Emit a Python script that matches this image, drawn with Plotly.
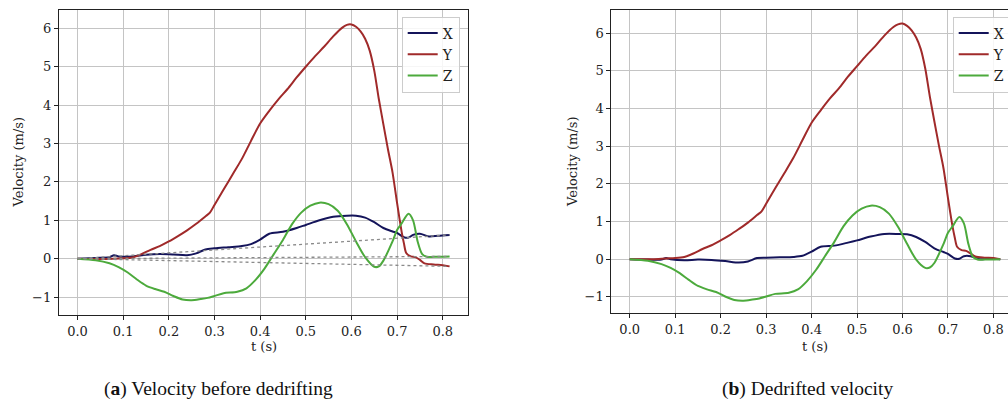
import plotly.graph_objects as go

# ---------------- data ----------------
# (a) Velocity before dedrifting
t_x_a = [0, 0.04, 0.07, 0.08, 0.09, 0.12, 0.15, 0.18, 0.21, 0.24, 0.26, 0.28, 0.30, 0.33, 0.36,
         0.38, 0.40, 0.42, 0.45, 0.48, 0.50, 0.53, 0.56, 0.59, 0.61, 0.63, 0.65, 0.67, 0.69, 0.70,
         0.715, 0.725, 0.735, 0.75, 0.77, 0.79, 0.815]
vx_a = [0, 0.02, 0.04, 0.09, 0.06, 0.06, 0.10, 0.12, 0.11, 0.09, 0.14, 0.24, 0.27, 0.30, 0.33,
        0.38, 0.50, 0.65, 0.70, 0.80, 0.88, 1.00, 1.09, 1.12, 1.12, 1.07, 0.95, 0.80, 0.71, 0.67,
        0.56, 0.55, 0.62, 0.65, 0.58, 0.60, 0.62]

t_y_a = [0, 0.05, 0.08, 0.10, 0.12, 0.14, 0.16, 0.18, 0.20, 0.22, 0.24, 0.26, 0.28, 0.29, 0.30,
         0.32, 0.34, 0.36, 0.38, 0.40, 0.42, 0.44, 0.46, 0.48, 0.50, 0.52, 0.54, 0.56, 0.58, 0.59,
         0.60, 0.61, 0.62, 0.63, 0.64, 0.65, 0.66, 0.67, 0.68, 0.69, 0.70, 0.71, 0.715, 0.72, 0.73,
         0.74, 0.75, 0.76, 0.78, 0.80, 0.815]
vy_a = [0, -0.01, 0.0, 0.01, 0.03, 0.12, 0.23, 0.33, 0.45, 0.59, 0.74, 0.91, 1.10, 1.20, 1.40,
        1.80, 2.20, 2.60, 3.07, 3.52, 3.85, 4.15, 4.42, 4.72, 5.00, 5.27, 5.52, 5.79, 6.02, 6.09,
        6.10, 6.04, 5.92, 5.73, 5.42, 4.90, 4.16, 3.50, 2.85, 2.25, 1.45, 0.70, 0.40, 0.15, 0.06,
        0.04, -0.03, -0.12, -0.15, -0.17, -0.20]

t_z_a = [0, 0.04, 0.07, 0.09, 0.11, 0.13, 0.15, 0.17, 0.19, 0.21, 0.23, 0.25, 0.27, 0.285, 0.30,
         0.32, 0.35, 0.37, 0.39, 0.41, 0.43, 0.45, 0.47, 0.49, 0.51, 0.53, 0.55, 0.57, 0.59, 0.61,
         0.63, 0.65, 0.66, 0.67, 0.69, 0.70, 0.71, 0.725, 0.735, 0.745, 0.755, 0.765, 0.78, 0.815]
vz_a = [0, -0.04, -0.12, -0.22, -0.36, -0.54, -0.70, -0.79, -0.86, -0.97, -1.06, -1.08, -1.05,
        -1.02, -0.97, -0.90, -0.86, -0.77, -0.55, -0.25, 0.12, 0.49, 0.90, 1.20, 1.38, 1.46, 1.42,
        1.25, 0.90, 0.45, 0.04, -0.21, -0.20, -0.05, 0.45, 0.75, 0.92, 1.17, 1.00, 0.45, 0.12, 0.05,
        0.05, 0.06]

# drift lines (start and end points)
drift_t = [0, 0.815]
drift_x = [0, 0.62]
drift_y = [0, -0.20]
drift_z = [0, 0.06]

# (b) Dedrifted velocity
t_x_b = t_x_a
vx_b = [0, -0.01, -0.01, 0.03, 0.0, -0.03, -0.01, -0.02, -0.05, -0.09, -0.06, 0.03, 0.04, 0.05,
        0.06, 0.09, 0.20, 0.33, 0.36, 0.44, 0.50, 0.60, 0.67, 0.67, 0.66, 0.59, 0.46, 0.29, 0.19,
        0.14, 0.02, 0.01, 0.08, 0.08, 0.00, 0.01, 0.0]

t_y_b = t_y_a
vy_b = [0, 0.0, 0.02, 0.03, 0.06, 0.15, 0.27, 0.37, 0.50, 0.64, 0.80, 0.97, 1.17, 1.27, 1.47,
        1.88, 2.28, 2.69, 3.16, 3.62, 3.95, 4.26, 4.53, 4.84, 5.12, 5.40, 5.65, 5.93, 6.16, 6.23,
        6.25, 6.19, 6.07, 5.88, 5.58, 5.06, 4.32, 3.66, 3.02, 2.42, 1.62, 0.87, 0.57, 0.33, 0.24,
        0.22, 0.15, 0.07, 0.04, 0.03, 0.0]

t_z_b = t_z_a
vz_b = [0, -0.04, -0.13, -0.23, -0.37, -0.55, -0.71, -0.80, -0.87, -0.99, -1.08, -1.10, -1.07,
        -1.04, -0.99, -0.92, -0.89, -0.80, -0.58, -0.28, 0.09, 0.46, 0.87, 1.16, 1.34, 1.42, 1.38,
        1.21, 0.86, 0.41, -0.01, -0.23, -0.22, -0.10, 0.40, 0.70, 0.87, 1.12, 0.95, 0.40, 0.06,
        -0.01, -0.01, 0.0]

names = ["X", "Y", "Z"]
colors = ["#14145a", "#a02a2a", "#4caa3c"]

y_ticks = [-1, 0, 1, 2, 3, 4, 5, 6]
x_ticks = [0.0, 0.1, 0.2, 0.3, 0.4, 0.5, 0.6, 0.7, 0.8]

# ---------------- figure ----------------
W, H = 1008, 405
fig = go.Figure()

SERIF = "'DejaVu Serif', 'Liberation Serif', serif"

def add_series(ts, vs, xa, ya, legend, show):
    for t, v, n, c in zip(ts, vs, names, colors):
        fig.add_trace(go.Scatter(x=t, y=v, mode="lines", name=n,
                                 line=dict(color=c, width=2, shape="spline", smoothing=0.8),
                                 xaxis=xa, yaxis=ya, legend=legend, showlegend=show))

add_series([t_x_a, t_y_a, t_z_a], [vx_a, vy_a, vz_a], "x", "y", "legend", True)
for dv in (drift_x, drift_y, drift_z):
    fig.add_trace(go.Scatter(x=drift_t, y=dv, mode="lines", showlegend=False,
                             line=dict(color="#8a8a8a", width=1.3, dash="dot"),
                             xaxis="x", yaxis="y", hoverinfo="skip"))
add_series([t_x_b, t_y_b, t_z_b], [vx_b, vy_b, vz_b], "x2", "y2", "legend2", True)

px = lambda p: p / W
py = lambda p: (H - p) / H

axis_common = dict(showgrid=True, gridcolor="#c4c4c4", gridwidth=1.2, zeroline=False,
                   ticks="outside", ticklen=4, tickcolor="#222", tickwidth=1,
                   showline=True, linecolor="#222", linewidth=1,
                   tickfont=dict(family=SERIF, size=13, color="#222"))

fig.update_layout(
    width=W, height=H,
    margin=dict(l=0, r=0, t=0, b=0, autoexpand=False),
    paper_bgcolor="white", plot_bgcolor="white",
    xaxis=dict(domain=[px(58.8), px(468.3)], range=[-0.041, 0.856], tickvals=x_ticks,
               tickformat=".1f", mirror=True, anchor="y", **axis_common),
    yaxis=dict(domain=[py(315), py(10.3)], range=[-1.466, 6.47], tickvals=y_ticks,
               mirror=True, anchor="x", **axis_common),
    xaxis2=dict(domain=[px(611.3), 1.0], range=[-0.0405, 0.832], tickvals=x_ticks,
                tickformat=".1f", mirror=True, anchor="y2", **axis_common),
    yaxis2=dict(domain=[py(313.3), py(10)], range=[-1.435, 6.61], tickvals=y_ticks,
                mirror=False, anchor="x2", **axis_common),
    legend=dict(x=px(401.7), y=py(16.5), xanchor="left", yanchor="top",
                bgcolor="rgba(255,255,255,0.85)", bordercolor="#cccccc", borderwidth=1,
                font=dict(family=SERIF, size=14, color="#222"), tracegroupgap=0,
                itemwidth=30),
    legend2=dict(x=px(952.7), y=py(16.5), xanchor="left", yanchor="top",
                 bgcolor="rgba(255,255,255,0.85)", bordercolor="#cccccc", borderwidth=1,
                 font=dict(family=SERIF, size=14, color="#222"), tracegroupgap=0,
                 itemwidth=30),
    showlegend=True,
)

ann = []
title_font = dict(family=SERIF, size=13, color="#222")
ann.append(dict(text="t (s)", x=px(263.5), y=py(346), xref="paper", yref="paper",
                showarrow=False, font=title_font, xanchor="center", yanchor="middle"))
ann.append(dict(text="t (s)", x=px(815), y=py(346), xref="paper", yref="paper",
                showarrow=False, font=title_font, xanchor="center", yanchor="middle"))
ann.append(dict(text="Velocity (m/s)", x=px(18), y=py(162.5), xref="paper", yref="paper",
                showarrow=False, font=title_font, textangle=-90,
                xanchor="center", yanchor="middle"))
ann.append(dict(text="Velocity (m/s)", x=px(572), y=py(162), xref="paper", yref="paper",
                showarrow=False, font=title_font, textangle=-90,
                xanchor="center", yanchor="middle"))
cap_font = dict(family="'Liberation Serif', serif", size=19.5, color="#111")
ann.append(dict(text="(<b>a</b>) Velocity before dedrifting", x=px(218), y=py(389),
                xref="paper", yref="paper", showarrow=False, font=cap_font,
                xanchor="center", yanchor="middle"))
ann.append(dict(text="(<b>b</b>) Dedrifted velocity", x=px(807), y=py(389),
                xref="paper", yref="paper", showarrow=False, font=cap_font,
                xanchor="center", yanchor="middle"))
fig.update_layout(annotations=ann)

fig.write_html("out.html")
